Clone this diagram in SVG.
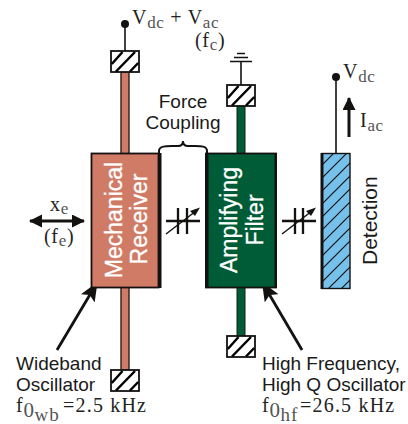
<svg xmlns="http://www.w3.org/2000/svg" width="408" height="424" viewBox="0 0 408 424">
<defs>
<pattern id="h2" width="13" height="13" patternUnits="userSpaceOnUse" patternTransform="translate(321 153)">
<path d="M-3 3L3 -3M0 13L13 0M10 16L16 10" stroke="#111" stroke-width="1.200" fill="none"/>
</pattern>
<g id="hb">
<rect x="0" y="0" width="28" height="21" fill="#fff" stroke="#141210" stroke-width="1.800"/>
<path d="M0.800 13L11.500 1M5 20.500L24 1M19 20.500L27.200 12" stroke="#000" stroke-width="2.500" fill="none"/>
</g>
<marker id="ah" markerUnits="userSpaceOnUse" markerWidth="22" markerHeight="18" refX="19" refY="8" orient="auto">
<path d="M0 0L19 8L0 16L4 8Z" fill="#141210"/>
</marker>
<marker id="ah2" markerUnits="userSpaceOnUse" markerWidth="14" markerHeight="14" refX="12" refY="6.500" orient="auto-start-reverse">
<path d="M0 0L13 6.500L0 13Z" fill="#141210"/>
</marker>
</defs>
<style>
.s{font-family:"Liberation Sans",Arial,sans-serif;fill:#1a1a1a;font-size:19px}
.w{font-family:"Liberation Sans",Arial,sans-serif;fill:#fff;stroke:#fff;stroke-width:.3px;font-size:23px;text-anchor:middle}
.m{font-family:"Liberation Serif","DejaVu Serif",serif;fill:#222;font-size:20px;letter-spacing:.7px}
.b{font-size:17px;fill:#555}
.ln{stroke:#141210;fill:none}
</style>
<g id="connectors">
<path class="ln" stroke-width="1.600" d="M125 24V51M241 61V85M336 77V153"/>
<path class="ln" stroke-width="1.500" d="M237 53.500h8M234 57.500h14M230 61.500h22"/>
<path class="ln" stroke-width="2.800" marker-end="url(#ah)" d="M57 350L97.500 282"/>
<path class="ln" stroke-width="2.800" marker-end="url(#ah)" d="M302 350L262 282"/>
<path class="ln" stroke-width="2.800" marker-start="url(#ah2)" marker-end="url(#ah2)" d="M30 221H84"/>
<path class="ln" stroke-width="3" marker-end="url(#ah2)" d="M349 137V98"/>
<path class="ln" stroke-width="2" d="M159 154V151C159 146 166 146 172 146H178C182 146 183 144 183 141C183 144 184 146 188 146H195C201 146 207 146 207 151V154"/>
<g id="coupling1" class="ln"><path stroke-width="2.300" d="M166 221H200M178 208V234M187 208V234"/><path stroke-width="1.500" d="M166 234L196 211"/><path d="M200 207.500L190 211L195 216Z" fill="#141210" stroke="none"/></g>
<g id="coupling2" class="ln"><path stroke-width="2.300" d="M282 221H316M295 208V234M303 208V234"/><path stroke-width="1.500" d="M282 234L312 211"/><path d="M316 207.500L306 211L311 216Z" fill="#141210" stroke="none"/></g>
</g>
<g id="receiver">
<rect x="121" y="72" width="8" height="298" fill="#d07b66" stroke="#2a2020" stroke-width="1.400"/>
<rect x="91.500" y="153.500" width="67" height="134" fill="#d07b66" stroke="#141210" stroke-width="1.800"/>
<rect x="158" y="153" width="3.500" height="135" fill="#141210"/>
<text class="w" transform="translate(122 220) rotate(-90)">Mechanical</text>
<text class="w" transform="translate(147 219) rotate(-90)">Receiver</text>
</g>
<g id="receiver-top"><use href="#hb" x="111" y="51"/></g>
<g id="receiver-bottom"><use href="#hb" x="111" y="370"/></g>
<g id="filter">
<rect x="237" y="106" width="8" height="230" fill="#005c36" stroke="#122018" stroke-width="1"/>
<rect x="206" y="153.500" width="70" height="134" fill="#005c36" stroke="#141210" stroke-width="1.800"/>
<rect x="205" y="153" width="3.500" height="135" fill="#141210"/>
<rect x="274.500" y="153" width="2.500" height="135" fill="#141210"/>
<text class="w" transform="translate(237 220) rotate(-90)">Amplifying</text>
<text class="w" transform="translate(263 220) rotate(-90)">Filter</text>
</g>
<g id="filter-top"><use href="#hb" x="227" y="85"/></g>
<g id="filter-bottom"><use href="#hb" x="227" y="336"/></g>
<g id="detection">
<rect x="322" y="153.500" width="28" height="135" fill="#75c1ec"/>
<rect x="322" y="153.500" width="28" height="135" fill="url(#h2)" stroke="#141210" stroke-width="1.400"/>
<rect x="320.500" y="153" width="3" height="136" fill="#141210"/>
<text class="s" style="font-size:21px" transform="translate(376.500 265) rotate(-90)">Detection</text>
</g>
<g id="labels">
<circle cx="125" cy="24" r="4" fill="#141210"/>
<circle cx="336" cy="77" r="4" fill="#141210"/>
<text class="m" x="132" y="24">V<tspan class="b" dy="4">dc</tspan><tspan dy="-4"> + V</tspan><tspan class="b" dy="4">ac</tspan></text>
<text class="m" x="195" y="47">(f<tspan class="b" dy="3">c</tspan><tspan dy="-3">)</tspan></text>
<text class="s" x="183" y="108" text-anchor="middle">Force</text>
<text class="s" x="183" y="129" text-anchor="middle">Coupling</text>
<text class="m" x="50" y="211">x<tspan class="b" dy="3">e</tspan></text>
<text class="m" x="44" y="243">(f<tspan class="b" dy="3">e</tspan><tspan dy="-3">)</tspan></text>
<text class="m" x="343" y="78">V<tspan class="b" dy="4">dc</tspan></text>
<text class="m" x="360" y="127">I<tspan class="b" dy="4">ac</tspan></text>
<text class="s" x="16" y="370">Wideband</text>
<text class="s" x="16" y="391">Oscillator</text>
<text class="m" x="16" y="412">f<tspan dy="5" style="fill:#555;font-size:21px">0</tspan><tspan class="b" dy="4" style="font-size:19px;letter-spacing:1px">wb</tspan><tspan x="63" dy="-9" style="letter-spacing:1.200px">=2.5 kHz</tspan></text>
<text class="s" x="262" y="370">High Frequency,</text>
<text class="s" x="262" y="391">High Q Oscillator</text>
<text class="m" x="262" y="412">f<tspan dy="5" style="fill:#555;font-size:21px">0</tspan><tspan class="b" dy="4" style="font-size:19px;letter-spacing:1px">hf</tspan><tspan x="300" dy="-9" style="letter-spacing:1.200px">=26.5 kHz</tspan></text>
</g>
</svg>
